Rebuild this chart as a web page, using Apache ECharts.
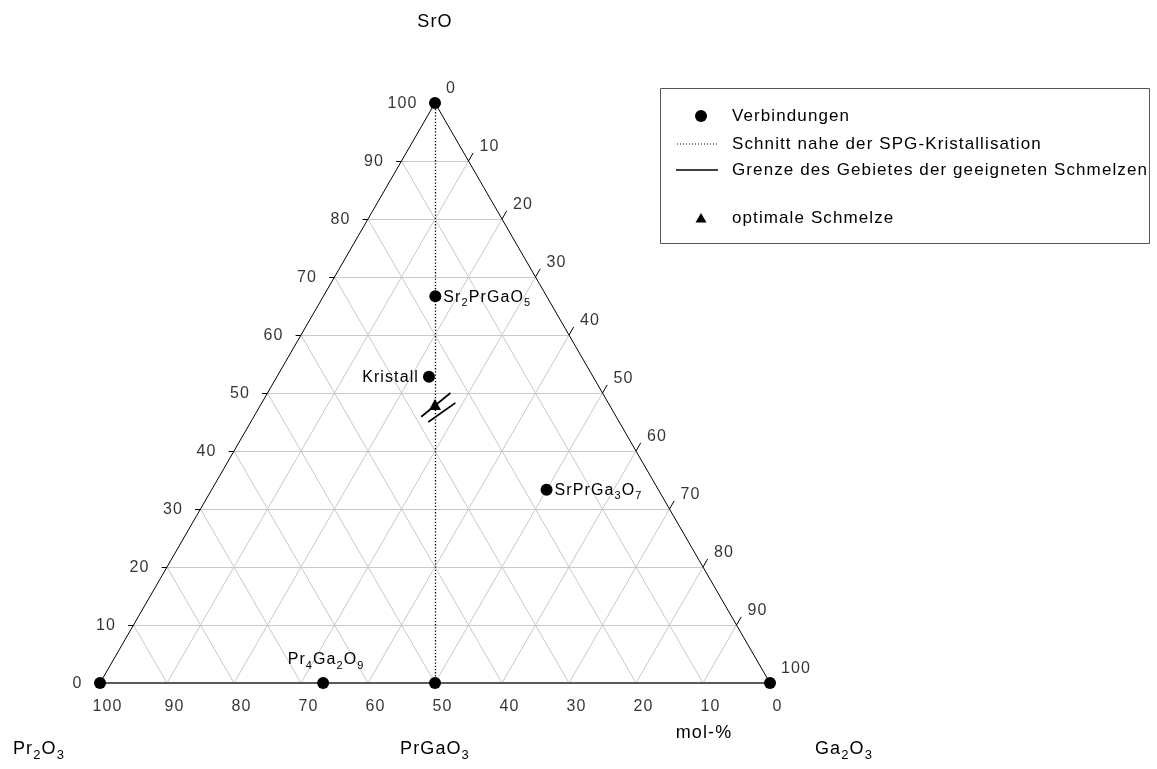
<!DOCTYPE html>
<html>
<head>
<meta charset="utf-8">
<script src="https://cdn.jsdelivr.net/npm/echarts@6/dist/echarts.min.js"></script>
<style>
  html, body { margin: 0; padding: 0; background: #fff; }
  #chart { width: 1157px; height: 769px; }
</style>
</head>
<body>
<div id="chart"></div>
<script>
// Phase diagram SrO – Pr2O3 – Ga2O3, compositions in mol-%.
// Every composition is given by its SrO and Ga2O3 content; Pr2O3 is the remainder.

const tickValues = [0, 10, 20, 30, 40, 50, 60, 70, 80, 90, 100];
const gridValues = [10, 20, 30, 40, 50, 60, 70, 80, 90];

const compoundNames  = ['SrO', 'Pr2O3', 'Ga2O3', 'PrGaO3', 'Pr4Ga2O9', 'Sr2PrGaO5', 'SrPrGa3O7', 'Kristall'];
const compoundSrO    = [100, 0, 0, 0, 0, 66.7, 33.3, 52.8];
const compoundGa2O3  = [0, 0, 100, 50, 33.3, 16.7, 50, 22.7];
const compoundLabels = ['', '', '', '',
  '{n|Pr}{s|4}{n|Ga}{s|2}{n|O}{s|9}',
  '{n|Sr}{s|2}{n|PrGaO}{s|5}',
  '{n|SrPrGa}{s|3}{n|O}{s|7}',
  '{n|Kristall}'];

// section PrGaO3 – SrO
const sectionSrO   = [0, 100];
const sectionGa2O3 = [50, 0];

// limits of the region of suitable melts
const boundaryASrO   = [45.9, 50.0];
const boundaryAGa2O3 = [25.0, 27.3];
const boundaryBSrO   = [45.0, 48.3];
const boundaryBGa2O3 = [26.5, 28.9];

// optimal melt
const optimumSrO   = [48.0];
const optimumGa2O3 = [26.0];

const cornerTitles = ['SrO', '{n|Pr}{s|2}{n|O}{s|3}', '{n|PrGaO}{s|3}', '{n|Ga}{s|2}{n|O}{s|3}'];
const unitLabel = 'mol-%';
const legendLabels = [
  'Verbindungen',
  'Schnitt nahe der SPG-Kristallisation',
  'Grenze des Gebietes der geeigneten Schmelzen',
  'optimale Schmelze'
];

// Text in this figure is set with slightly open tracking.
const TRACKING = '1.1px';
['measureText', 'fillText', 'strokeText'].forEach(function (fn) {
  const base = CanvasRenderingContext2D.prototype[fn];
  CanvasRenderingContext2D.prototype[fn] = function () {
    this.letterSpacing = TRACKING;
    return base.apply(this, arguments);
  };
});

const FONT = "'Liberation Sans', Arial, Helvetica, sans-serif";
const H = Math.sqrt(3) / 2;

// ternary (SrO, Ga2O3) -> cartesian plane of the triangle (side length 100)
function toXY(sro, ga) {
  return [ga + sro / 2, sro * H];
}

// grid lines at every 10 mol-%
const gridSegments = [];
gridValues.forEach(function (v) {
  gridSegments.push({ coords: [toXY(v, 0), toXY(v, 100 - v)] });          // SrO = v
  gridSegments.push({ coords: [toXY(0, v), toXY(100 - v, v)] });          // Ga2O3 = v
  gridSegments.push({ coords: [toXY(0, 100 - v), toXY(100 - v, 0)] });    // Pr2O3 = v
});

// short ticks continuing the grid lines outside the triangle
const tickSegments = [];
gridValues.forEach(function (v) {
  tickSegments.push({ coords: [toXY(v, 0), toXY(v, -0.8)] });
  tickSegments.push({ coords: [toXY(100 - v, v), toXY(100 - v + 1.4, v)] });
  tickSegments.push({ coords: [toXY(0, 100 - v), toXY(-1.2, 100 - v + 1.2)] });
});

const sideEdges = [
  { coords: [toXY(0, 0), toXY(100, 0)] },
  { coords: [toXY(100, 0), toXY(0, 100)] }
];
const baseEdge = [{ coords: [toXY(0, 0), toXY(0, 100)] }];

const sectionLine = [{ coords: sectionSrO.map(function (s, i) { return toXY(s, sectionGa2O3[i]); }) }];
const boundaryLines = [
  { coords: boundaryASrO.map(function (s, i) { return toXY(s, boundaryAGa2O3[i]); }) },
  { coords: boundaryBSrO.map(function (s, i) { return toXY(s, boundaryBGa2O3[i]); }) }
];

const richSmall = {
  n: { fontSize: 16, fontFamily: FONT, color: '#000', lineHeight: 18 },
  s: { fontSize: 11, fontFamily: FONT, color: '#000', lineHeight: 18, padding: [11, 0, 0, 0] }
};
const richLarge = {
  n: { fontSize: 18, fontFamily: FONT, color: '#000', lineHeight: 20 },
  s: { fontSize: 13, fontFamily: FONT, color: '#000', lineHeight: 20, padding: [13, 0, 0, 0] }
};

const labelLayout = {
  Pr4Ga2O9:  { position: 'inside', offset: [3, -23] },
  Sr2PrGaO5: { position: 'right', distance: 2, offset: [0, 1] },
  SrPrGa3O7: { position: 'right', distance: 2, offset: [0, 1] },
  Kristall:  { position: 'left', distance: 4, offset: [0, 1] }
};

const compoundData = compoundNames.map(function (name, i) {
  const item = { name: name, value: toXY(compoundSrO[i], compoundGa2O3[i]) };
  if (compoundLabels[i]) {
    item.label = Object.assign({ show: true, formatter: compoundLabels[i], rich: richSmall }, labelLayout[name]);
  }
  return item;
});

const optimumData = optimumSrO.map(function (s, i) { return toXY(s, optimumGa2O3[i]); });

const tickLabelStyle = { fontSize: 16, fontFamily: FONT, color: '#000' };

function tickLabelSeries(points, labelOpts) {
  return {
    type: 'scatter',
    silent: true,
    symbolSize: 1,
    itemStyle: { color: 'transparent' },
    data: points,
    label: Object.assign({
      show: true,
      position: 'inside',
      formatter: function (p) { return p.data[2]; }
    }, tickLabelStyle, labelOpts),
    z: 6
  };
}

// SrO scale on the left side, Ga2O3 scale on the right side, Pr2O3 scale along the base
const leftTickPoints = tickValues.map(function (v) { return toXY(v, 0).concat([String(v)]); });
const rightTickPoints = tickValues.map(function (v) { return toXY(100 - v, v).concat([String(v)]); });
const baseTickPoints = tickValues.map(function (v) { return toXY(0, 100 - v).concat([String(v)]); });

const chart = echarts.init(document.getElementById('chart'), null, { renderer: 'canvas' });

const legendRows = [116, 144, 170, 218];

chart.setOption({
  animation: false,
  backgroundColor: '#fff',
  grid: { left: 100, top: 103, width: 670, height: 580, show: false },
  xAxis: { type: 'value', min: 0, max: 100, show: false },
  yAxis: { type: 'value', min: 0, max: 100 * H, show: false },
  series: [
    {
      type: 'lines', coordinateSystem: 'cartesian2d', silent: true, z: 1,
      lineStyle: { color: '#c9c9c9', width: 1, opacity: 1 },
      data: gridSegments
    },
    {
      type: 'lines', coordinateSystem: 'cartesian2d', silent: true, z: 2,
      lineStyle: { color: '#000', width: 1, opacity: 1 },
      data: tickSegments.concat(sideEdges)
    },
    {
      type: 'lines', coordinateSystem: 'cartesian2d', silent: true, z: 2,
      lineStyle: { color: '#5a5a5a', width: 2, opacity: 1 },
      data: baseEdge
    },
    {
      type: 'lines', coordinateSystem: 'cartesian2d', silent: true, z: 3,
      lineStyle: { color: '#000', width: 1.3, type: [1.3, 1.9], opacity: 1 },
      data: sectionLine
    },
    {
      type: 'lines', coordinateSystem: 'cartesian2d', silent: true, z: 3,
      lineStyle: { color: '#000', width: 1.7, opacity: 1 },
      data: boundaryLines
    },
    {
      type: 'scatter', silent: true, z: 5,
      symbol: 'circle', symbolSize: 12,
      itemStyle: { color: '#000', opacity: 1 },
      data: compoundData
    },
    {
      type: 'scatter', silent: true, z: 5,
      symbol: 'triangle', symbolSize: [12, 11],
      itemStyle: { color: '#000', opacity: 1 },
      data: optimumData
    },
    tickLabelSeries(leftTickPoints, { align: 'right', offset: [-17.5, 1] }),
    tickLabelSeries(rightTickPoints, { align: 'left', offset: [11, -14] }),
    tickLabelSeries(baseTickPoints, { align: 'center', offset: [7.5, 24] })
  ],
  graphic: [
    { type: 'text', x: 435, y: 22, style: { text: cornerTitles[0], font: '18px ' + FONT, fill: '#000', align: 'center', verticalAlign: 'middle' } },
    { type: 'text', x: 13, y: 749, style: { text: cornerTitles[1], rich: richLarge, align: 'left', verticalAlign: 'middle' } },
    { type: 'text', x: 435, y: 749, style: { text: cornerTitles[2], rich: richLarge, align: 'center', verticalAlign: 'middle' } },
    { type: 'text', x: 844, y: 749, style: { text: cornerTitles[3], rich: richLarge, align: 'center', verticalAlign: 'middle' } },
    { type: 'text', x: 704, y: 733, style: { text: unitLabel, font: '18px ' + FONT, fill: '#000', align: 'center', verticalAlign: 'middle' } },
    // legend
    { type: 'rect', shape: { x: 660.5, y: 88.5, width: 489, height: 155 }, style: { fill: '#fff', stroke: '#555', lineWidth: 1 } },
    { type: 'circle', shape: { cx: 701, cy: legendRows[0], r: 6 }, style: { fill: '#000' } },
    { type: 'line', shape: { x1: 677, y1: legendRows[1], x2: 717, y2: legendRows[1] }, style: { stroke: '#000', lineWidth: 1, lineDash: [1, 2] } },
    { type: 'line', shape: { x1: 676, y1: legendRows[2], x2: 718, y2: legendRows[2] }, style: { stroke: '#000', lineWidth: 1.7 } },
    { type: 'polygon', shape: { points: [[701, legendRows[3] - 5], [706.5, legendRows[3] + 4.5], [695.5, legendRows[3] + 4.5]] }, style: { fill: '#000' } }
  ].concat(legendLabels.map(function (t, i) {
    return { type: 'text', x: 732, y: legendRows[i], style: { text: t, font: '17px ' + FONT, fill: '#000', align: 'left', verticalAlign: 'middle' } };
  }))
});
</script>
</body>
</html>
